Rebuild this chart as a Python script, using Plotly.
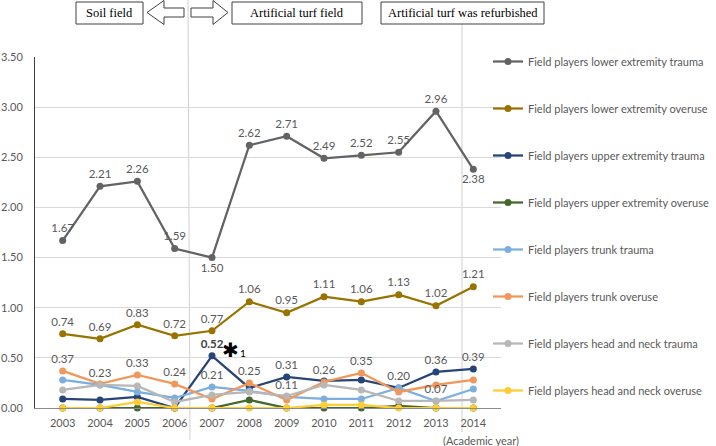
import plotly.graph_objects as go

years = ["2003", "2004", "2005", "2006", "2007", "2008", "2009", "2010", "2011", "2012", "2013", "2014"]

series_names = [
    "Field players lower extremity trauma",
    "Field players lower extremity overuse",
    "Field players upper extremity trauma",
    "Field players upper extremity overuse",
    "Field players trunk trauma",
    "Field players trunk overuse",
    "Field players head and neck trauma",
    "Field players head and neck overuse",
]
series_colors = ["#636363", "#997300", "#264478", "#43682B", "#7CAFDD", "#F1975A", "#B7B7B7", "#FFCD33"]

lower_trauma = [1.67, 2.21, 2.26, 1.59, 1.50, 2.62, 2.71, 2.49, 2.52, 2.55, 2.96, 2.38]
lower_overuse = [0.74, 0.69, 0.83, 0.72, 0.77, 1.06, 0.95, 1.11, 1.06, 1.13, 1.02, 1.21]
upper_trauma = [0.09, 0.08, 0.11, 0.00, 0.52, 0.20, 0.31, 0.27, 0.28, 0.20, 0.36, 0.39]
upper_overuse = [0.00, 0.00, 0.00, 0.00, 0.00, 0.08, 0.00, 0.00, 0.00, 0.02, 0.00, 0.00]
trunk_trauma = [0.28, 0.23, 0.16, 0.10, 0.21, 0.17, 0.11, 0.09, 0.09, 0.20, 0.07, 0.19]
trunk_overuse = [0.37, 0.24, 0.33, 0.24, 0.09, 0.25, 0.08, 0.26, 0.35, 0.16, 0.23, 0.28]
head_trauma = [0.18, 0.23, 0.22, 0.06, 0.13, 0.16, 0.12, 0.23, 0.18, 0.07, 0.07, 0.08]
head_overuse = [0.00, 0.00, 0.06, 0.00, 0.00, 0.00, 0.00, 0.03, 0.03, 0.00, 0.00, 0.00]

series_values = [lower_trauma, lower_overuse, upper_trauma, upper_overuse,
                 trunk_trauma, trunk_overuse, head_trauma, head_overuse]

# which points carry a data label (index of year) per series
labeled_points = [
    list(range(12)),
    list(range(12)),
    [4, 6, 9, 10, 11],
    [],
    [4, 6],
    [0, 2, 3, 5, 7, 8],
    [1, 10],
    [],
]
below_labels = {0: [4, 11]}
bold_labels = {2: [4]}

tick_vals = [0, 0.5, 1.0, 1.5, 2.0, 2.5, 3.0, 3.5]

W, H = 716, 446
L, R, T, B = 35, 215, 57, 38
PW, PH = W - L - R, H - T - B


def px(x):
    return (x - L) / PW


def py(y):
    return (H - B - y) / PH


FONT = "Lato"
TXT = "#595959"

fig = go.Figure()
for i, (name, vals, col) in enumerate(zip(series_names, series_values, series_colors)):
    texts, positions, tcolors = [], [], []
    for j, v in enumerate(vals):
        if j in labeled_points[i]:
            t = f"{v:.2f}"
            if j in bold_labels.get(i, []):
                t = f"<b>{t}</b>"
            texts.append(t)
        else:
            texts.append("")
        positions.append("bottom center" if j in below_labels.get(i, []) else "top center")
        tcolors.append("#404040" if j in bold_labels.get(i, []) else TXT)
    fig.add_trace(go.Scatter(
        x=years, y=vals, name=name, mode="lines+markers+text",
        line=dict(color=col, width=2.25),
        marker=dict(color=col, size=7),
        text=texts, textposition=positions,
        textfont=dict(family=FONT, size=11.5, color=tcolors),
        legendgroup=str(i), cliponaxis=False,
    ))

shapes = []
line_col = "#D0D0D0"
shapes.append(dict(type="line", xref="paper", yref="paper", x0=px(188), x1=px(190), y0=py(0), y1=py(440),
                   line=dict(color=line_col, width=1), layer="below"))
shapes.append(dict(type="line", xref="paper", yref="paper", x0=px(462), x1=px(462), y0=py(24), y1=py(432),
                   line=dict(color=line_col, width=1), layer="below"))

# boxes
boxes = [(76, 2, 143, 24, "Soil field"), (232, 2, 362, 24, "Artificial turf field"),
         (381, 2, 544, 24, "Artificial turf was refurbished")]
annotations = []
for x0, y0, x1, y1, label in boxes:
    shapes.append(dict(type="rect", xref="paper", yref="paper", x0=px(x0), x1=px(x1), y0=py(y0), y1=py(y1),
                       line=dict(color="#404040", width=1), fillcolor="white"))
    annotations.append(dict(xref="paper", yref="paper", x=px((x0 + x1) / 2), y=py((y0 + y1) / 2),
                            text=label, showarrow=False, xanchor="center", yanchor="middle",
                            font=dict(family="Liberation Serif", size=12.5, color="#000000")))


def arrow_path(pts):
    return "M " + " L ".join(f"{px(x):.5f},{py(y):.5f}" for x, y in pts) + " Z"


left_arrow = [(147, 12.5), (164, 0.5), (164, 8), (184, 8), (184, 17), (164, 17), (164, 24.5)]
right_arrow = [(228, 12.5), (213, 0.5), (213, 8), (191, 8), (191, 17), (213, 17), (213, 24.5)]
for pts in (left_arrow, right_arrow):
    shapes.append(dict(type="path", xref="paper", yref="paper", path=arrow_path(pts),
                       line=dict(color="#404040", width=1), fillcolor="white"))

annotations.append(dict(xref="paper", yref="paper", x=px(230), y=py(350), text="✱",
                        showarrow=False, xanchor="center", yanchor="middle",
                        font=dict(family="DejaVu Sans", size=20, color="#000000")))
annotations.append(dict(xref="paper", yref="paper", x=px(238), y=py(353), text="1",
                        showarrow=False, xanchor="left", yanchor="middle",
                        font=dict(family=FONT, size=10, color="#000000")))
annotations.append(dict(xref="paper", yref="paper", x=px(481), y=py(440), text="(Academic year)",
                        showarrow=False, xanchor="center", yanchor="middle",
                        font=dict(family=FONT, size=11, color=TXT)))

fig.update_layout(
    width=W, height=H,
    margin=dict(l=L, r=R, t=T, b=B, pad=0, autoexpand=False),
    paper_bgcolor="white", plot_bgcolor="white",
    font=dict(family=FONT, size=11, color=TXT),
    showlegend=True,
    legend=dict(x=px(488), y=py(47), xanchor="left", yanchor="top",
                traceorder="grouped", tracegroupgap=28, itemwidth=30, maxheight=430,
                font=dict(family=FONT, size=11, color=TXT),
                bgcolor="rgba(0,0,0,0)"),
    shapes=shapes, annotations=annotations,
    xaxis=dict(type="category", showgrid=False, showline=True, linecolor="#8C8C8C", linewidth=1,
               ticks="", ticklabelstandoff=5, tickfont=dict(family=FONT, size=11, color=TXT), fixedrange=True,
               automargin=False),
    yaxis=dict(range=[0, 3.5], tickvals=tick_vals, tickformat=".2f", showgrid=True, gridcolor="#D9D9D9",
               gridwidth=1, zeroline=False, showline=True, linecolor="#404040", linewidth=1,
               ticks="", ticklabelstandoff=9, tickfont=dict(family=FONT, size=11, color=TXT), fixedrange=True,
               automargin=False),
)

fig.write_html("out.html", config={"displayModeBar": False},
               post_script="document.body.style.margin='0';document.body.style.padding='0';")
